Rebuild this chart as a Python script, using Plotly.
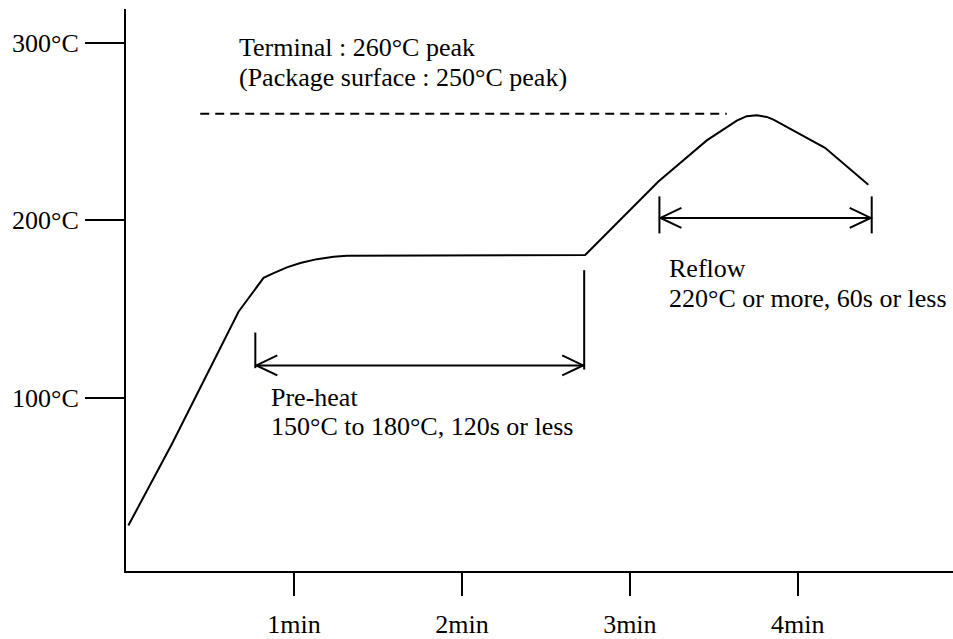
import plotly.graph_objects as go

# ---- data ----
time_min = [0.014, 0.274, 0.670, 0.819, 0.879, 0.958, 1.038, 1.137, 1.236, 1.315,
            2.734, 3.170, 3.458, 3.637, 3.696, 3.756, 3.815, 3.855, 4.162, 4.420]
temp_c = [28.4, 74.4, 148.6, 167.7, 170.3, 173.6, 176.0, 178.2, 179.6, 180.1,
          180.5, 221.9, 245.0, 256.1, 258.6, 259.1, 258.2, 256.7, 240.8, 220.0]

peak_temp = 260
peak_line_span = [0.442, 3.577]

preheat_window = [0.770, 2.728]
preheat_arrow_temp = 118.4
preheat_marker_left = [116.9, 136.9]
preheat_marker_right = [116.1, 172.0]

reflow_window = [3.176, 4.440]
reflow_arrow_temp = 201.4
reflow_marker = [192.7, 213.5]

y_tick_vals = [100, 200, 300]
y_tick_text = ["100°C", "200°C", "300°C"]
x_tick_vals = [1, 2, 3, 4]
x_tick_text = ["1min", "2min", "3min", "4min"]

FONT = "Liberation Serif, Times New Roman, Tinos, serif"
FS = 26
BLACK = "#000000"

fig = go.Figure()

fig.add_trace(go.Scatter(x=time_min, y=temp_c, mode="lines",
                         line=dict(color=BLACK, width=2), hoverinfo="skip",
                         showlegend=False))

fig.add_trace(go.Scatter(x=peak_line_span, y=[peak_temp, peak_temp], mode="lines",
                         line=dict(color=BLACK, width=2, dash="9px,6px"),
                         hoverinfo="skip", showlegend=False))

shapes = []
def vline(x, y0, y1):
    shapes.append(dict(type="line", xref="x", yref="y", x0=x, x1=x, y0=y0, y1=y1,
                       line=dict(color=BLACK, width=2)))

def dbl_arrow(xa, xb, y):
    shapes.append(dict(type="line", xref="x", yref="y", x0=xa, x1=xb, y0=y, y1=y,
                       line=dict(color=BLACK, width=2)))
    shapes.append(dict(type="path", xref="x", yref="y", xsizemode="pixel", ysizemode="pixel",
                       xanchor=xa, yanchor=y, path="M 22,-10 L 1,0 L 22,10",
                       line=dict(color=BLACK, width=2)))
    shapes.append(dict(type="path", xref="x", yref="y", xsizemode="pixel", ysizemode="pixel",
                       xanchor=xb, yanchor=y, path="M -22,-10 L -1,0 L -22,10",
                       line=dict(color=BLACK, width=2)))

vline(preheat_window[0], *preheat_marker_left)
vline(preheat_window[1], *preheat_marker_right)
dbl_arrow(preheat_window[0], preheat_window[1], preheat_arrow_temp)

vline(reflow_window[0], *reflow_marker)
vline(reflow_window[1], *reflow_marker)
dbl_arrow(reflow_window[0], reflow_window[1], reflow_arrow_temp)

def label(x, y, text):
    return dict(x=x, y=y, xref="x", yref="y", text=text, showarrow=False,
                xanchor="left", yanchor="middle",
                font=dict(family=FONT, size=FS, color=BLACK))

annotations = [
    label(0.6625, 297.2, "Terminal : 260°C peak"),
    label(0.6625, 280.5, "(Package surface : 250°C peak)"),
    label(3.220, 173.0, "Reflow"),
    label(3.220, 156.3, "220°C or more, 60s or less"),
    label(0.854, 100.6, "Pre-heat"),
    label(0.854, 83.9, "150°C to 180°C, 120s or less"),
]

fig.update_layout(
    width=953, height=639,
    margin=dict(l=126, r=0, t=9, b=62, pad=0),
    paper_bgcolor="white", plot_bgcolor="white",
    showlegend=False,
    shapes=shapes,
    annotations=annotations,
    xaxis=dict(range=[0, 4.924], showgrid=False, zeroline=False,
               showline=True, linecolor=BLACK, linewidth=2,
               ticks="outside", ticklen=23, tickwidth=2, tickcolor=BLACK,
               tickvals=x_tick_vals, ticktext=x_tick_text,
               tickfont=dict(family=FONT, size=FS, color=BLACK),
               ticklabelstandoff=6, fixedrange=True),
    yaxis=dict(range=[2.8, 318.9], showgrid=False, zeroline=False,
               showline=True, linecolor=BLACK, linewidth=2,
               ticks="outside", ticklen=39, tickwidth=2, tickcolor=BLACK,
               tickvals=y_tick_vals, ticktext=y_tick_text,
               tickfont=dict(family=FONT, size=FS, color=BLACK),
               ticklabelstandoff=1, fixedrange=True),
)

fig.write_html("out.html", config={"displayModeBar": False},
               post_script="document.body.style.margin='0';document.body.style.overflow='hidden';")
